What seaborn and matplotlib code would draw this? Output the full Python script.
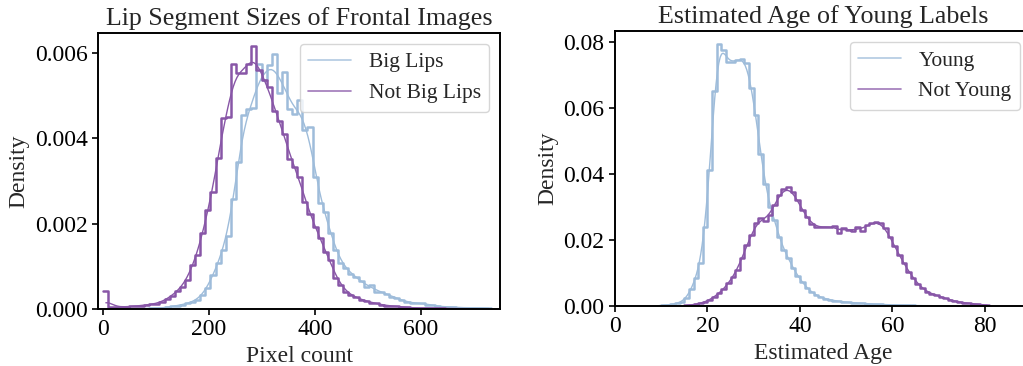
import matplotlib.pyplot as plt
from matplotlib.lines import Line2D
from matplotlib.ticker import MultipleLocator
import numpy as np
import seaborn as sns

################################################################
# data (density per bin)

# lip segment sizes, bins start at 0 px
lip_bin_width = 9.65
big_lips = [
    0.00001, 0.00001, 0.00001, 0.00001, 0.00001, 0.00001, 0.00001, 0.00001, 0.00001,
    0.00002, 0.00002, 0.00002, 0.00004, 0.00006, 0.00008, 0.0001, 0.00013, 0.00017,
    0.0002, 0.00033, 0.0005, 0.00079, 0.00107, 0.00138, 0.0017, 0.00258, 0.00344,
    0.00455, 0.00467, 0.0047, 0.00573, 0.00536, 0.0057, 0.00597, 0.00505, 0.00554,
    0.00468, 0.00457, 0.00488, 0.0042, 0.00426, 0.00309, 0.00247, 0.00227, 0.00177,
    0.00138, 0.00107, 0.00095, 0.00083, 0.00075, 0.00065, 0.00052, 0.00056, 0.0004,
    0.0004, 0.00036, 0.00029, 0.00025, 0.00021, 0.00017, 0.00013, 0.00013, 0.00015,
    0.0001, 0.0001, 0.00006, 0.00005, 0.00005, 0.00005, 0.00003, 0.00003, 0.00003,
    0.00003, 0.00003, 0.00003, 0.00002,
]
not_big_lips = [
    0.00042, 0.00004, 0.00004, 0.00005, 0.00005, 0.00006, 0.00007, 0.00008, 0.0001,
    0.00011, 0.00012, 0.00017, 0.00023, 0.00031, 0.00042, 0.00052, 0.00068, 0.00103,
    0.00126, 0.00179, 0.00231, 0.00274, 0.00354, 0.00447, 0.0045, 0.00573, 0.00552,
    0.00552, 0.00573, 0.00615, 0.0056, 0.00536, 0.0052, 0.00464, 0.0044, 0.0041,
    0.00352, 0.00332, 0.00309, 0.0025, 0.00223, 0.00192, 0.00165, 0.00134, 0.00114,
    0.00072, 0.00056, 0.0004, 0.00032, 0.00027, 0.00022, 0.00019, 0.00015, 0.00013,
    0.0001, 0.00008, 0.00007, 0.00006, 0.00005, 0.00004, 0.00003, 0.00002, 0.00002,
    0.00002, 0.00002, 0.00002, 0.00002, 0.00001, 0.00001, 0.00001, 0.00001, 0.00001,
    0.00001,
]

# estimated age, 1 year bins
age_bin_width = 1.0
young_start = 9
young = [
    0.0001, 0.0002, 0.0003, 0.0005, 0.0008, 0.0013, 0.0025, 0.005, 0.0085, 0.013,
    0.024, 0.041, 0.065, 0.0792, 0.0775, 0.0738, 0.0738, 0.0745, 0.0748, 0.0735,
    0.066, 0.0577, 0.046, 0.037, 0.030, 0.026, 0.021, 0.017, 0.0145, 0.0115,
    0.0092, 0.0072, 0.0055, 0.0042, 0.0033, 0.0026, 0.0022, 0.0019, 0.0016, 0.0014,
    0.0012, 0.0011, 0.0010, 0.0009, 0.0008, 0.0007, 0.0006, 0.0005, 0.0005, 0.0004,
    0.0004, 0.0003, 0.0003, 0.0002, 0.0002, 0.0002, 0.0001, 0.0001, 0.0001, 0.0001,
    0.0001,
]
not_young_start = 15
not_young = [
    0.0002, 0.0003, 0.0005, 0.0008, 0.0012, 0.0018, 0.0028, 0.0038, 0.005, 0.0068,
    0.0087, 0.011, 0.0144, 0.0185, 0.0215, 0.025, 0.0265, 0.0258, 0.0275, 0.0305,
    0.0335, 0.0355, 0.036, 0.0345, 0.032, 0.029, 0.0268, 0.0248, 0.024, 0.0238,
    0.0238, 0.024, 0.0242, 0.0222, 0.0235, 0.023, 0.0226, 0.0238, 0.0228, 0.0245,
    0.025, 0.0255, 0.0252, 0.0235, 0.021, 0.018, 0.0154, 0.0129, 0.0104, 0.0086,
    0.0066, 0.0053, 0.0043, 0.0036, 0.0033, 0.0028, 0.0023, 0.0018, 0.0015, 0.0012,
    0.001, 0.0008, 0.0007, 0.0005, 0.0004, 0.0003,
]

blue = "#9ebcda"
purple = "#8856a7"

sns.set_style("ticks")
plt.rcParams["font.family"] = ["Liberation Serif", "DejaVu Serif"]
plt.rcParams["axes.edgecolor"] = "black"
plt.rcParams["axes.linewidth"] = 1.4
plt.rcParams["xtick.color"] = "black"
plt.rcParams["ytick.color"] = "black"


def draw_hist(ax, start, width, heights, color, bw):
    heights = np.asarray(heights)
    edges = start + width * np.arange(len(heights) + 1)
    centers = edges[:-1] + width / 2
    sns.histplot(x=centers, weights=heights, bins=list(edges), stat="count",
                 element="step", fill=False, kde=True, color=color,
                 linewidth=1.8, kde_kws={"bw_adjust": bw},
                 line_kws={"linewidth": 1}, ax=ax)


fig = plt.figure(figsize=(10.23, 3.66), dpi=100)
ax1 = fig.add_axes([0.0958, 0.1557, 0.393, 0.754])
ax2 = fig.add_axes([0.6012, 0.164, 0.4066, 0.751])

################################################################
# lip segment sizes
draw_hist(ax1, 0, lip_bin_width, big_lips, blue, 0.3)
draw_hist(ax1, 0, lip_bin_width, not_big_lips, purple, 0.3)
ax1.set_xlim(-10, 750)
ax1.xaxis.set_major_locator(MultipleLocator(200))
ax1.yaxis.set_major_locator(MultipleLocator(0.002))
ax1.set_title("Lip Segment Sizes of Frontal Images", fontsize=18.7)
ax1.set_xlabel("Pixel count", fontsize=17)
ax1.set_ylabel("Density", fontsize=17)
ax1.legend(handles=[Line2D([0], [0], color=blue, lw=1.2, alpha=0.8, label="Big Lips"),
                    Line2D([0], [0], color=purple, lw=1.2, alpha=0.8, label="Not Big Lips")],
           loc="upper right", fontsize=15.5)

################################################################
# estimated age
draw_hist(ax2, young_start, age_bin_width, young, blue, 0.25)
draw_hist(ax2, not_young_start, age_bin_width, not_young, purple, 0.2)
ax2.set_xlim(0, 90)
ax2.xaxis.set_major_locator(MultipleLocator(20))
ax2.yaxis.set_major_locator(MultipleLocator(0.02))
ax2.set_title("Estimated Age of Young Labels", fontsize=18.7)
ax2.set_xlabel("Estimated Age", fontsize=17)
ax2.set_ylabel("Density", fontsize=17)
ax2.legend(handles=[Line2D([0], [0], color=blue, lw=1.2, alpha=0.8, label="Young"),
                    Line2D([0], [0], color=purple, lw=1.2, alpha=0.8, label="Not Young")],
           loc="upper right", fontsize=15.5)

for ax in (ax1, ax2):
    ax.tick_params(labelsize=17, length=4, width=1.2)

fig.savefig("out.png", dpi=100)
